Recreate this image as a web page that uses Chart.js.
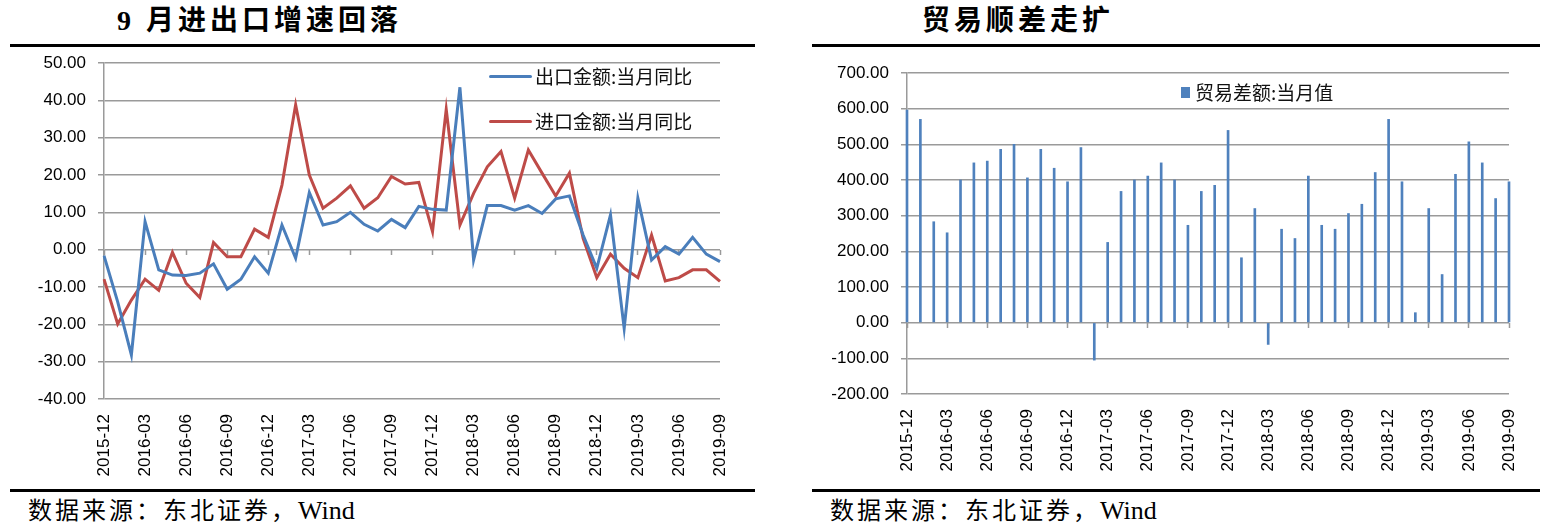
<!DOCTYPE html>
<html>
<head>
<meta charset="utf-8">
<script src="https://cdn.jsdelivr.net/npm/chart.js@4"></script>
<style>
  body { margin: 0; width: 1548px; height: 527px; background: #fff; position: relative; overflow: hidden; }
  .box { position: absolute; top: 0; height: 490px; }
  .title { position: absolute; top: 4px; font-family: "Liberation Serif", "Noto Sans CJK SC", serif; font-weight: 700; font-size: 28px; letter-spacing: 4px; color: #000; line-height: 34px; white-space: nowrap; }
  .rule { position: absolute; height: 3px; background: #000; }
  .source { position: absolute; top: 496px; font-family: "Liberation Serif", "Noto Sans CJK SC", serif; font-size: 24px; letter-spacing: 3px; color: #000; line-height: 30px; white-space: nowrap; }
  .source span { letter-spacing: 0; font-size: 26px; }
  .legend { position: absolute; font-family: "Noto Sans CJK SC", sans-serif; font-size: 19px; color: #111; line-height: 24px; white-space: nowrap; }
  .swatch { position: absolute; }
</style>
</head>
<body>
<div class="title" style="left:117px;">9 月进出口增速回落</div>
<div class="title" style="left:922px;">贸易顺差走扩</div>
<div class="rule" style="left:10px; width:745px; top:44px;"></div>
<div class="rule" style="left:812px; width:728px; top:44px;"></div>
<div class="rule" style="left:10px; width:745px; top:489px;"></div>
<div class="rule" style="left:812px; width:728px; top:489px;"></div>
<div class="source" style="left:28px;">数据来源：东北证券，<span>Wind</span></div>
<div class="source" style="left:830px;">数据来源：东北证券，<span>Wind</span></div>

<div class="box" style="left:0; width:760px;"><canvas id="flowChart"></canvas></div>
<div class="box" style="left:780px; width:768px;"><canvas id="balanceChart"></canvas></div>

<div class="swatch" style="left:489px; top:75px; width:43px; height:3px; background:#4A7EBB; border-radius:2px;"></div>
<div class="legend" style="left:535px; top:64px;">出口金额:当月同比</div>
<div class="swatch" style="left:489px; top:120px; width:43px; height:3px; background:#BE4B48; border-radius:2px;"></div>
<div class="legend" style="left:535px; top:109px;">进口金额:当月同比</div>
<div class="swatch" style="left:1181px; top:87px; width:9px; height:11px; background:#4F81BD;"></div>
<div class="legend" style="left:1195px; top:80px;">贸易差额:当月值</div>

<script>
var months = [
  "2015-12",
  "2016-01", "2016-02", "2016-03", "2016-04", "2016-05", "2016-06",
  "2016-07", "2016-08", "2016-09", "2016-10", "2016-11", "2016-12",
  "2017-01", "2017-02", "2017-03", "2017-04", "2017-05", "2017-06",
  "2017-07", "2017-08", "2017-09", "2017-10", "2017-11", "2017-12",
  "2018-01", "2018-02", "2018-03", "2018-04", "2018-05", "2018-06",
  "2018-07", "2018-08", "2018-09", "2018-10", "2018-11", "2018-12",
  "2019-01", "2019-02", "2019-03", "2019-04", "2019-05", "2019-06",
  "2019-07", "2019-08", "2019-09",
];

// 出口金额:当月同比 (%)
var exportYoY = [
  -1.6, -14, -28.2, 7.5, -5.4, -6.8, -6.9, -6.3, -3.8, -10.6, -7.9, -1.9,
  -6.3, 6.6, -2.3, 15.3, 6.6, 7.5, 10.0, 6.8, 5.0, 8.1, 5.9, 11.6,
  10.8, 10.6, 43.5, -2.8, 11.8, 11.8, 10.6, 11.8, 9.7, 13.6, 14.4, 3.9,
  -5.0, 9.3, -21.1, 13.8, -2.8, 0.8, -1.2, 3.3, -1.2, -3.2,
];

// 进口金额:当月同比 (%)
var importYoY = [
  -7.9, -19.9, -13.5, -7.9, -10.9, -0.7, -9.0, -12.8, 1.9, -1.9, -1.9, 5.5,
  3.3, 17.3, 38.8, 20.0, 11.1, 13.8, 17.1, 11.1, 13.9, 19.6, 17.6, 18.0,
  4.8, 37.6, 6.6, 15.1, 22.2, 26.3, 13.8, 26.7, 20.5, 14.4, 20.5, 3.0,
  -7.5, -1.2, -5.0, -7.5, 3.9, -8.4, -7.5, -5.4, -5.4, -8.5,
];

// 贸易差额:当月值 (亿美元)
var tradeBalance = [
  596, 570, 283, 252, 400, 448, 453, 486, 500, 406, 486, 433,
  395, 491, -105, 225, 368, 400, 411, 448, 400, 273, 368, 385,
  539, 182, 320, -61, 262, 236, 411, 273, 262, 306, 332, 421,
  570, 395, 28, 320, 135, 416, 507, 448, 348, 395,
];

var blue = "#4A7EBB";
var red = "#BE4B48";
var barBlue = "#4F81BD";
var gridColor = "#9a9a9a";

Chart.defaults.font.family = '"Liberation Sans", Arial, sans-serif';
Chart.defaults.font.size = 17;
Chart.defaults.color = "#000";

function everyThird(value, index) {
  return index % 3 === 0 ? months[index] : "";
}

function makeScales(min, max, step, yWidth, xHeight) {
  return {
    x: {
      type: "category",
      offset: false,
      grid: { display: false, offset: false, drawTicks: false },
      border: { display: false },
      ticks: {
        autoSkip: false,
        maxRotation: 90,
        minRotation: 90,
        padding: 15,
        callback: everyThird,
      },
      afterFit: function (scale) {
        scale.height = xHeight;
      },
    },
    x0: {
      type: "category",
      axis: "x",
      position: { y: 0 },
      offset: false,
      grid: {
        offset: false,
        drawOnChartArea: false,
        drawTicks: true,
        tickLength: 5,
        tickWidth: 1.5,
        tickColor: function (ctx) {
          return ctx.index % 3 === 0 ? gridColor : "rgba(0,0,0,0)";
        },
      },
      border: { display: false },
      ticks: { display: false, autoSkip: false },
      afterFit: function (scale) {
        scale.height = 0;
      },
    },
    y: {
      min: min,
      max: max,
      grid: {
        color: gridColor,
        lineWidth: 1.5,
        tickLength: 6,
      },
      border: { display: true, color: gridColor, width: 1.5 },
      ticks: {
        stepSize: step,
        padding: 12,
        callback: function (v) {
          return v.toFixed(2);
        },
      },
      afterFit: function (scale) {
        scale.width = yWidth;
      },
    },
  };
}

new Chart("flowChart", {
  type: "line",
  data: {
    labels: months,
    datasets: [
      {
        label: "出口金额:当月同比",
        data: exportYoY,
        borderColor: blue,
        borderWidth: 3,
        pointRadius: 0,
        tension: 0,
      },
      {
        label: "进口金额:当月同比",
        data: importYoY,
        borderColor: red,
        borderWidth: 3,
        pointRadius: 0,
        tension: 0,
      },
    ],
  },
  options: {
    responsive: true,
    maintainAspectRatio: false,
    animation: false,
    layout: { padding: { left: 14, top: 63, right: 40, bottom: 0 } },
    plugins: { legend: { display: false }, tooltip: { enabled: false } },
    scales: makeScales(-40, 50, 10, 90, 91),
  },
});

new Chart("balanceChart", {
  type: "bar",
  data: {
    labels: months,
    datasets: [
      {
        label: "贸易差额:当月值",
        data: tradeBalance,
        backgroundColor: barBlue,
        barThickness: 2,
        clip: false,
      },
    ],
  },
  options: {
    responsive: true,
    maintainAspectRatio: false,
    animation: false,
    layout: { padding: { left: 17, top: 73, right: 39, bottom: 0 } },
    plugins: { legend: { display: false }, tooltip: { enabled: false } },
    scales: makeScales(-200, 700, 100, 110, 96),
  },
});
</script>
</body>
</html>
